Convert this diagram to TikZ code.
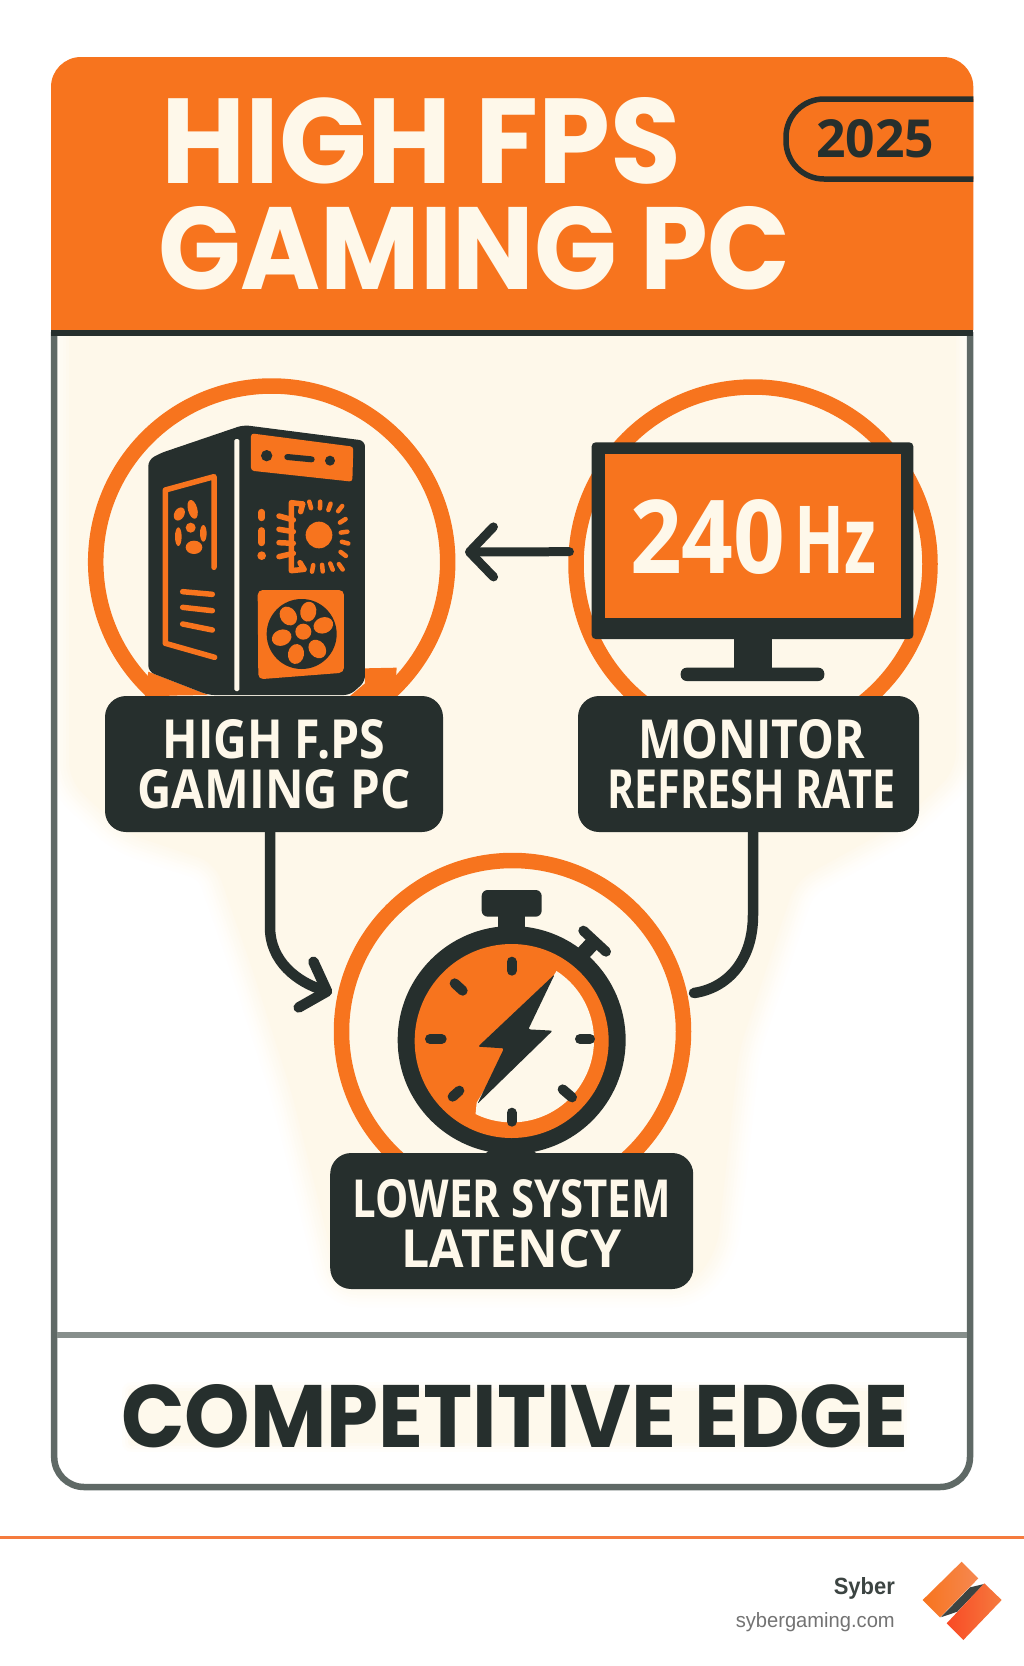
\documentclass[tikz,border=0pt]{standalone}
\usepackage{graphicx}
\usepackage{fontspec}
\setmainfont{Open Sans}
\newfontfamily\titlefam{Poppins}
\newfontfamily\footfam{Liberation Sans}
\usetikzlibrary{arrows.meta,calc}
\definecolor{hot}{HTML}{F7741E}
\definecolor{ink}{HTML}{262F2D}
\definecolor{cream}{HTML}{FEF8EA}
\definecolor{rim}{HTML}{5F6966}
\definecolor{rule}{HTML}{F57B3E}
\newcommand{\fitbox}[3]{\resizebox{#1pt}{#2pt}{#3}}
\tikzset{
  ring/.style={circle,draw=hot,line width=15.5pt,inner sep=0pt,outer sep=0pt},
  tag/.style={rectangle,rounded corners=21pt,fill=ink,text=cream,inner sep=0pt,outer sep=0pt,align=center,
    font=\fontsize{50}{50}\selectfont\bfseries},
  title/.style={inner sep=0pt,outer sep=0pt,anchor=base west,text=cream,font=\titlefam\bfseries},
  conn/.style={draw=ink,line width=10.5pt,line cap=round},
  icon/.style={draw=hot,line width=5.5pt,line cap=round,line join=round},
  tick/.style={draw=ink,line width=10pt,line cap=round},
}
\begin{document}
\begin{tikzpicture}[x=1pt,y=-1pt]
\useasboundingbox (0,0) rectangle (1024,1666);
\fill[white] (0,0) rectangle (1024,1666);

% card interior
\fill[white,rounded corners=30pt] (54,300) rectangle (970,1487);
% soft cream field
\begin{scope}
\clip (57,335) rectangle (967,1332);
\foreach \w/\c in {44/8,38/18,32/30,26/42,20/55,14/68,8/82,2/100}{
  \path[draw=cream!\c!white,fill=cream!\c!white,line width=\w pt,line join=round,rounded corners=18pt]
    (70,300) -- (955,300) -- (955,770) -- (900,822) -- (795,880) -- (738,1050) -- (716,1250) -- (690,1285)
    -- (340,1285) -- (322,1210) -- (292,1090) -- (252,965) -- (216,862) -- (125,832) -- (70,780) -- cycle;
}
\end{scope}
% header
\fill[hot] (51,330) [rounded corners=30pt] -- (51,57) -- (973.3,57) [sharp corners] -- (973.3,330) -- cycle;
% card border
\draw[rim,line width=6.5pt] (54.2,332) [rounded corners=30pt] -- (54.2,1487) -- (970,1487) [sharp corners] -- (970,332);
\draw[ink,line width=6pt] (51,332.5) -- (973.3,332.5);
\draw[rim!75!white,line width=6pt] (57,1335) -- (967,1335);
% text glow at the bottom
\foreach \w/\c in {20/20,14/40,8/65,2/90}{
  \path[draw=cream!\c!white,fill=cream!\c!white,line width=\w pt,line join=round] (132,1392) rectangle (900,1442);
}

% badge
\draw[ink,line width=5.5pt,fill=hot] (973.3,99) [rounded corners=38pt] -- (786,99) -- (786,179) -- (973.3,179);
\node[inner sep=0pt,anchor=base west,text=ink,font=\bfseries] (year) at (816,157) {\fitbox{118}{38}{2025}};

% title
\node[title] (titleA) at (161,183) {\fitbox{520}{86}{HIGH FPS}};
\node[title] (titleB) at (158,289) {\fitbox{632}{83}{GAMING PC}};

% rings
\node[ring,minimum size=352pt] (ringPC) at (271.7,562) {};
\node[ring,minimum size=354pt] (ringMon) at (753,564) {};
\node[ring,minimum size=342pt] (ringLat) at (512.5,1031.5) {};

\coordinate (tipPC) at (465,552);
\coordinate (tipLat) at (332,993);
\coordinate (endLat) at (694,993);

% PC tower
\begin{scope}[shift={(80,370)},x=0.33333pt,y=-0.33333pt]
\fill[hot] (205,905) -- (385,975) -- (195,978) -- cycle;
\fill[hot] (855,895) -- (950,893) -- (945,978) -- (810,978) -- (855,940) -- cycle;
\fill[ink,rounded corners=6pt] (205,905) -- (205,270) -- (240,250) -- (490,165) -- (855,212) -- (855,935) -- (810,975) -- (385,975) -- cycle;
\fill[cream,rounded corners=1.5pt] (463,207) rectangle (478,963);
% top panel
\fill[hot,rounded corners=3pt] (513,190) -- (820,230) -- (817,335) -- (513,302) -- cycle;
\fill[ink] (560,257) circle (17);
\draw[ink,line width=6pt,line cap=round] (622,261) -- (695,268);
\fill[ink] (750,272) circle (15);
% side window
\draw[icon,line cap=round] (402,592) -- (402,320) -- (256,360) -- (256,820) -- (404,862);
\foreach \yy/\yz in {665/673,712/722,762/780}{ \draw[icon] (308,\yy) -- (397,\yz); }
% side fan
\fill[hot,rotate around={15:(338,418)}] (338,418) ellipse (14 and 29);
\fill[hot,rotate around={-30:(298,432)}] (298,432) ellipse (15 and 21);
\fill[hot] (370,490) ellipse (10 and 25);
\fill[hot] (295,500) ellipse (10 and 28);
\fill[hot] (332,473) circle (15);
\fill[hot] (342,532) ellipse (25 and 20);
% chip
\draw[hot,line width=7pt,line cap=round] (545,427) -- (545,443);
\draw[hot,line width=7pt,line cap=round] (545,482) -- (545,518);
\fill[hot] (545,557) circle (13);
\foreach \ya/\yb in {438/450,478/485,518/520,560/550}{ \draw[icon] (597,\ya) -- (640,\yb); }
\draw[icon] (668,402) -- (634,398) -- (634,602) -- (672,598);
\draw[icon] (668,402) -- (662,425);
\draw[icon] (672,598) -- (660,578);
\fill[hot] (717,495) circle (40);
\foreach \a/\r in {-106/96,-88/92,-70/92,-52/103,-32/84,-8/76,15/81,37/91,55/114,68/100,84/98,101/100}{
  \draw[hot,line width=4.5pt,line cap=round] ($(717,497)+(\a:\r-10)$) -- ($(717,497)+(\a:\r+10)$);
}
% fan box
\fill[hot,rounded corners=5pt] (533,660) -- (792,660) -- (792,908) -- (535,928) -- cycle;
\fill[ink] (665,792) circle (105);
\fill[hot] (670,785) circle (24);
\foreach \x/\y/\rr in {625/738/35,685/725/-10,730/766/-70,712/837/-140,648/852/170,605/803/110}{
  \fill[hot,rotate around={\rr:(\x,\y)}] (\x,\y) ellipse (24 and 30);
}
\end{scope}

% monitor
\begin{scope}[shift={(540,370)},x=0.33333pt,y=-0.33333pt]
\fill[ink,rounded corners=4pt] (155,217) rectangle (1120,807);
\fill[hot] (195,253) rectangle (1082,745);
\fill[ink] (582,800) rectangle (697,900);
\fill[ink,rounded corners=6pt] (422,893) rectangle (853,933);
\end{scope}
\node[inner sep=0pt,anchor=base west,text=cream,font=\bfseries] (hz) at (630,573)
  {\fitbox{155}{74}{240}\hspace{9pt}\fitbox{82}{67}{Hz}};

% stopwatch
\begin{scope}[shift={(250,840)},x=0.33333pt,y=-0.33333pt]
\fill[ink,rounded corners=6pt] (695,150) rectangle (875,230);
\fill[ink] (745,225) rectangle (825,290);
\draw[ink,line width=10pt,line cap=round] (1000,272) -- (1068,335);
\draw[ink,line width=15pt] (1034,303) -- (990,350);
\fill[ink] (700,945) -- (865,945) -- (830,915) -- (740,915) -- cycle;
\fill[ink] (785,600) circle (342);
\fill[hot] (785,603) circle (291);
\fill[cream] (919.5,393) arc (-57:116:247) -- (680,788) -- cycle;
\foreach \xa/\ya/\xb/\yb in {785/365/785/392,614/430/638/452,540/597/575/597,990/597/1020/597,608/770/628/752,938/748/966/772,785/818/785/845}{
  \draw[tick] (\xa,\ya) -- (\xb,\yb);
}
\fill[ink,rounded corners=2pt] (914,403) -- (835,568) -- (908,572) -- (682,792) -- (762,625) -- (684,620) -- cycle;
\end{scope}

% tags
\node[tag,minimum width=338pt,minimum height=136pt] (tagPC) at (274,764)
  {\fitbox{223}{39}{HIGH F.PS}\\\fitbox{273}{39}{GAMING PC}};
\node[tag,minimum width=341pt,minimum height=136pt] (tagMon) at (748.5,764)
  {\hspace*{6pt}\fitbox{227}{39}{MONITOR}\\\hspace*{6pt}\fitbox{288}{39}{REFRESH RATE}};
\node[tag,minimum width=363pt,minimum height=136pt] (tagLat) at (511.7,1221)
  {\rule{0pt}{43pt}\fitbox{318}{38}{LOWER SYSTEM}\\\fitbox{220}{38}{LATENCY}};

% connectors
\draw[conn,line width=9pt,-{Straight Barb[round,length=24pt,width=50pt]},shorten <=7pt] (ringMon.176) -- (tipPC);
\draw[conn,-{Straight Barb[round,length=22pt,width=48pt]}] ($(tagPC.south)+(-4,0)$) -- (270,927)
  .. controls (270,962) and (298,982) .. (tipLat);
\draw[conn] ($(tagMon.south)+(4.5,0)$) -- (753,915) .. controls (753,960) and (728,988) .. (endLat);

% bottom text
\node[inner sep=0pt,anchor=base west,text=ink,font=\titlefam\bfseries] (edge) at (121,1447) {\fitbox{787}{63}{COMPETITIVE EDGE}};

% footer
\draw[rule,line width=3pt] (0,1537) -- (1024,1537);
\node[inner sep=0pt,anchor=base east,text=ink!90!white,font=\footfam\bfseries] (brand) at (895,1594) {\fitbox{61}{17}{Syber}};
\node[inner sep=0pt,anchor=base east,text=black!55,font=\footfam] (site) at (895,1627) {\fitbox{159}{15}{sybergaming.com}};
\begin{scope}[shift={(700,1500)},x=0.33333pt,y=-0.33333pt]
\fill[ink!90!white] (722,352) -- (810,262) -- (852,252) -- (772,335) -- cycle;
\shade[left color=hot,right color=rule!90!white] (785,185) -- (835,235) -- (720,352) -- (668,300) -- cycle;
\shade[left color=rule!60!red,right color=rule] (853,250) -- (905,300) -- (790,420) -- (740,370) -- cycle;
\end{scope}
\end{tikzpicture}
\end{document}
